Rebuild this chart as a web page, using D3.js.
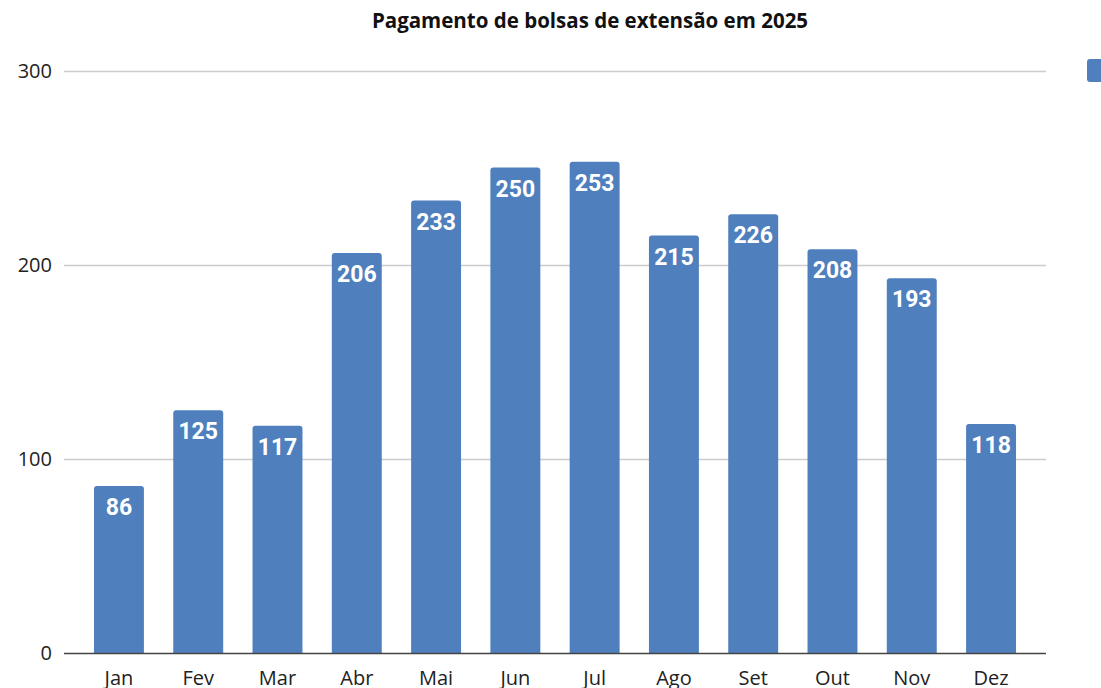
<!DOCTYPE html>
<html>
<head>
<meta charset="utf-8">
<script src="https://cdn.jsdelivr.net/npm/d3@7"></script>
<style>
  html, body { margin: 0; padding: 0; background: #fff; }
  svg { display: block; }
</style>
</head>
<body>
<div id="chart"></div>
<script>
var months = ['Jan', 'Fev', 'Mar', 'Abr', 'Mai', 'Jun', 'Jul', 'Ago', 'Set', 'Out', 'Nov', 'Dez'];
var payments = [86, 125, 117, 206, 233, 250, 253, 215, 226, 208, 193, 118];
var yTicks = [0, 100, 200, 300];
var title = 'Pagamento de bolsas de extensão em 2025';

var width = 1101, height = 688;
var barColor = '#4f80bd';

var svg = d3.select('#chart')
  .append('svg')
  .attr('width', width)
  .attr('height', height);

var x = d3.scaleBand()
  .domain(months)
  .range([64, 1046])
  .paddingInner(0.37)
  .paddingOuter(0.378);

var y = d3.scaleLinear()
  .domain([0, 300])
  .range([653, 70.5]);

// grid lines
svg.append('g')
  .selectAll('line')
  .data(yTicks.filter(d => d > 0))
  .enter().append('line')
  .attr('x1', 64)
  .attr('x2', 1046)
  .attr('y1', d => Math.round(y(d)) + 0.5)
  .attr('y2', d => Math.round(y(d)) + 0.5)
  .attr('stroke', '#cccccc')
  .attr('stroke-width', 1.5);

// y tick labels
svg.append('g')
  .selectAll('text')
  .data(yTicks)
  .enter().append('text')
  .attr('x', 52)
  .attr('y', d => y(d))
  .attr('dy', '0.36em')
  .attr('text-anchor', 'end')
  .attr('font-family', '"Open Sans", sans-serif')
  .attr('font-size', '20px')
  .attr('fill', '#222')
  .text(d => d);

// bars with rounded top corners
function barPath(x0, w, top, bottom, r) {
  return 'M' + x0 + ',' + bottom +
    'V' + (top + r) +
    'Q' + x0 + ',' + top + ' ' + (x0 + r) + ',' + top +
    'H' + (x0 + w - r) +
    'Q' + (x0 + w) + ',' + top + ' ' + (x0 + w) + ',' + (top + r) +
    'V' + bottom + 'Z';
}

var data = months.map((m, i) => ({ month: m, value: payments[i] }));

svg.append('g')
  .selectAll('path')
  .data(data)
  .enter().append('path')
  .attr('d', d => barPath(x(d.month), x.bandwidth(), y(d.value), y(0), 3))
  .attr('fill', barColor);

// value labels
svg.append('g')
  .selectAll('text')
  .data(data)
  .enter().append('text')
  .attr('x', d => x(d.month) + x.bandwidth() / 2)
  .attr('y', d => y(d.value) + 29)
  .attr('text-anchor', 'middle')
  .attr('font-family', 'Roboto, sans-serif')
  .attr('font-weight', 'bold')
  .attr('font-size', '23px')
  .attr('fill', '#fff')
  .text(d => d.value);

// baseline axis
svg.append('line')
  .attr('x1', 64)
  .attr('x2', 1046)
  .attr('y1', 653.5)
  .attr('y2', 653.5)
  .attr('stroke', '#444')
  .attr('stroke-width', 1.5);

// x labels
svg.append('g')
  .selectAll('text')
  .data(months)
  .enter().append('text')
  .attr('x', d => x(d) + x.bandwidth() / 2)
  .attr('y', 685)
  .attr('text-anchor', 'middle')
  .attr('font-family', '"Open Sans", sans-serif')
  .attr('font-size', '20px')
  .attr('fill', '#222')
  .text(d => d);

// title
svg.append('text')
  .attr('x', 590)
  .attr('y', 28)
  .attr('text-anchor', 'middle')
  .attr('font-family', '"Open Sans", sans-serif')
  .attr('font-weight', 'bold')
  .attr('font-size', '20.5px')
  .attr('fill', '#111')
  .text(title);

// legend swatch (cut off at the right edge)
svg.append('rect')
  .attr('x', 1087)
  .attr('y', 59)
  .attr('width', 24)
  .attr('height', 23)
  .attr('rx', 3)
  .attr('fill', barColor);
</script>
</body>
</html>
